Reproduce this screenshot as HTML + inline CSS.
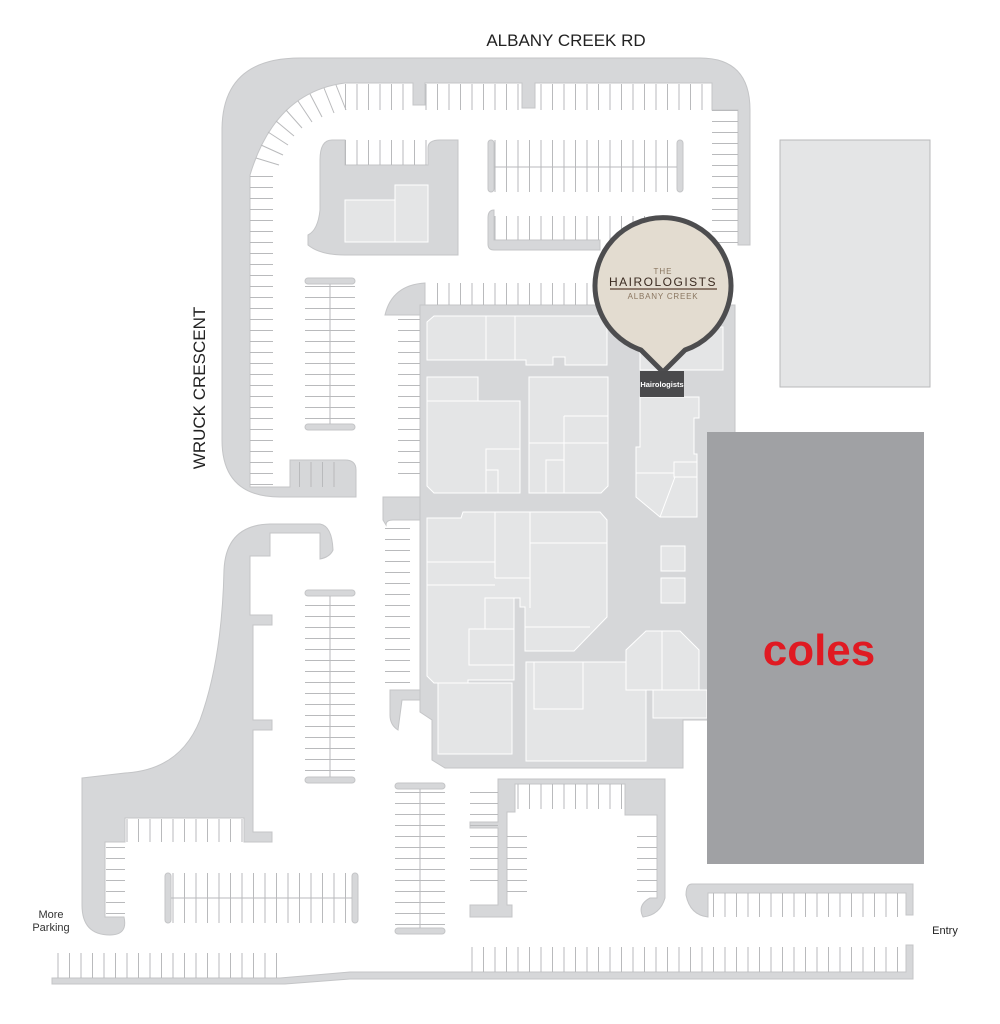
<!DOCTYPE html>
<html><head><meta charset="utf-8"><style>
html,body{margin:0;padding:0;background:#fff;}
svg{display:block;}
text{font-family:"Liberation Sans",sans-serif;}
</style></head><body>
<svg width="1000" height="1024" viewBox="0 0 1000 1024" xmlns="http://www.w3.org/2000/svg">
<defs>
<pattern id="v" width="11.5" height="10" patternUnits="userSpaceOnUse"><line x1="0.5" y1="0" x2="0.5" y2="10" stroke="#b9babc" stroke-width="1"/></pattern>
<pattern id="h" width="10" height="11" patternUnits="userSpaceOnUse"><line x1="0" y1="0.5" x2="10" y2="0.5" stroke="#b9babc" stroke-width="1"/></pattern>
</defs>
<g fill="#d6d7d9" stroke="#c4c5c7" stroke-width="1">
<!-- outer ring road -->
<path d="M222,130 Q222,58 300,58 L700,58 Q750,58 750,110 L750,245 L738,245 L738,110 L712,110 L712,83 L535,83 L535,108 L522,108 L522,83 L425,83 L425,105 L413,105 L413,83 L345,83 Q275,92 250,175 L250,487 L290,487 L290,460 L345,460 Q356,460 356,470 L356,497 L280,497 Q222,497 222,440 Z"/>
<!-- top-left island -->
<path d="M332,140 L345,140 L345,165 L428,165 L428,148 Q428,140 440,140 L458,140 L458,255 L345,255 Q320,255 308,245 L308,235 Q318,230 320,210 L320,160 Q320,140 332,140 Z"/>
<!-- rows -->
<rect x="488" y="140" width="6" height="52" rx="3"/>
<rect x="677" y="140" width="6" height="52" rx="3"/>
<path d="M488,218 Q488,210 494,210 L494,240 L600,240 L600,250 L494,250 Q488,250 488,244 Z"/>
<rect x="305" y="278" width="50" height="6" rx="3"/>
<rect x="305" y="424" width="50" height="6" rx="3"/>
<!-- mall floor -->
<path d="M425,283 Q392,285 385,315 L420,315 L420,305 L425,305 Z"/>
<path d="M420,305 L735,305 L735,720 L683,720 L683,768 L445,768 L432,760 L432,720 L420,712 Z"/>
<path d="M383,497 L420,497 L420,520 L393,520 Q386,520 386,525 L383,520 Z"/>
<path d="M390,690 L420,690 L420,700 L402,700 L398,730 Q390,725 390,715 Z"/>
<!-- lower-left band -->
<path d="M82,778 L125,773 Q180,770 200,720 Q222,660 224,570 Q226,525 270,524 L320,524 Q332,526 333,550 Q330,557 320,559 L320,533 L270,533 L270,556 L250,556 L250,615 L272,615 L272,625 L253,625 L253,720 L272,720 L272,730 L253,730 L253,832 L272,832 L272,842 L244,842 L244,818 L125,818 L125,842 L105,842 L105,917 L124,917 Q128,935 110,935 Q82,935 82,905 Z"/>
<rect x="165" y="873" width="6" height="50" rx="3"/>
<rect x="352" y="873" width="6" height="50" rx="3"/>
<rect x="395" y="783" width="50" height="6" rx="3"/>
<rect x="395" y="928" width="50" height="6" rx="3"/>
<rect x="305" y="590" width="50" height="6" rx="3"/>
<rect x="305" y="777" width="50" height="6" rx="3"/>
<!-- U shape -->
<path d="M498,779 L665,779 L665,898 Q660,915 643,917 Q637,905 650,898 L657,898 L657,815 L625,815 L625,784 L515,784 L515,812 L507,812 L507,905 L512,905 L512,917 L470,917 L470,905 L498,905 L498,828 L470,828 L470,822 L498,822 Z"/>
<!-- bottom right strip -->
<path d="M692,884 L913,884 L913,915 L906,915 L906,893 L708,893 L708,917 Q690,915 686,895 Q686,884 692,884 Z"/>
<!-- bottom long strip -->
<path d="M52,978 L280,978 L350,972 L906,972 L906,945 L913,945 L913,979 L350,979 L285,984 L52,984 Z"/>
</g>
<!-- corner diagonal stalls -->
<g stroke="#b9babc" stroke-width="1">
<line x1="336" y1="85" x2="346" y2="110"/>
<line x1="324" y1="88" x2="334" y2="113"/>
<line x1="310" y1="94" x2="322" y2="117"/>
<line x1="298" y1="101" x2="312" y2="122"/>
<line x1="286" y1="110" x2="302" y2="128"/>
<line x1="276" y1="121" x2="294" y2="136"/>
<line x1="268" y1="132" x2="288" y2="145"/>
<line x1="261" y1="145" x2="283" y2="155"/>
<line x1="256" y1="158" x2="279" y2="165"/>
</g>
<!-- parking stalls -->
<g>
<rect x="345" y="84" width="68" height="26" fill="url(#v)"/>
<rect x="425" y="84" width="97" height="26" fill="url(#v)"/>
<rect x="535" y="84" width="177" height="26" fill="url(#v)"/>
<rect x="712" y="110" width="26" height="135" fill="url(#h)"/>
<rect x="250" y="175" width="23" height="310" fill="url(#h)"/>
<rect x="345" y="140" width="83" height="25" fill="url(#v)"/>
<rect x="494" y="140" width="183" height="52" fill="url(#v)"/>
<line x1="494" y1="167" x2="677" y2="167" stroke="#b9babc"/>
<rect x="494" y="216" width="183" height="24" fill="url(#v)"/>
<rect x="428" y="283" width="160" height="22" fill="url(#v)"/>
<rect x="305" y="286" width="50" height="136" fill="url(#h)"/>
<line x1="330" y1="284" x2="330" y2="424" stroke="#b9babc"/>
<rect x="290" y="462" width="55" height="25" fill="url(#v)"/>
<rect x="398" y="318" width="22" height="160" fill="url(#h)"/>
<rect x="385" y="525" width="25" height="160" fill="url(#h)"/>
<rect x="305" y="598" width="50" height="178" fill="url(#h)"/>
<line x1="330" y1="596" x2="330" y2="777" stroke="#b9babc"/>
<rect x="125" y="819" width="118" height="23" fill="url(#v)"/>
<rect x="106" y="845" width="19" height="70" fill="url(#h)"/>
<rect x="171" y="873" width="181" height="50" fill="url(#v)"/>
<line x1="171" y1="898" x2="352" y2="898" stroke="#b9babc"/>
<rect x="395" y="791" width="50" height="136" fill="url(#h)"/>
<line x1="420" y1="789" x2="420" y2="928" stroke="#b9babc"/>
<rect x="470" y="783" width="28" height="100" fill="url(#h)"/>
<rect x="515" y="784" width="110" height="25" fill="url(#v)"/>
<rect x="507" y="826" width="20" height="75" fill="url(#h)"/>
<rect x="637" y="826" width="20" height="70" fill="url(#h)"/>
<rect x="708" y="893" width="198" height="24" fill="url(#v)"/>
<rect x="56" y="953" width="224" height="25" fill="url(#v)"/>
<rect x="466" y="947" width="440" height="25" fill="url(#v)"/>
</g>
<!-- buildings -->
<g fill="#e4e5e6" stroke="#fff" stroke-width="1">
<rect x="345" y="200" width="50" height="42"/>
<rect x="395" y="185" width="33" height="57"/>
<path d="M434,316 L607,316 L607,365 L565,365 L565,357 L553,357 L553,365 L526,365 L526,360 L427,360 L427,322 Z"/>
<line x1="486" y1="316" x2="486" y2="360"/><line x1="515" y1="316" x2="515" y2="360"/>
<path d="M427,377 L478,377 L478,401 L520,401 L520,493 L434,493 L427,486 Z"/>
<line x1="427" y1="401" x2="478" y2="401"/>
<rect x="486" y="449" width="34" height="44"/><rect x="486" y="470" width="12" height="23"/>
<path d="M529,377 L608,377 L608,486 L601,493 L529,493 Z"/>
<line x1="529" y1="443" x2="608" y2="443"/><line x1="564" y1="416" x2="608" y2="416"/><line x1="564" y1="416" x2="564" y2="493"/>
<rect x="546" y="460" width="18" height="33"/>
<rect x="640" y="327" width="83" height="43"/>
<path d="M640,397 L699,397 L699,418 L694,418 L694,454 L697,454 L697,517 L660,517 L636,497 L636,447 L640,447 Z"/>
<line x1="636" y1="473" x2="674" y2="473"/><path d="M674,462 L697,462 L697,477 L674,477 Z"/><line x1="675" y1="477" x2="660" y2="517"/>
<path d="M427,518 L461,518 L463,512 L600,512 L607,520 L607,617 L574,651 L525,651 L525,607 L520,607 L520,598 L514,598 L514,680 L468,680 L468,683 L434,683 L427,676 Z"/>
<line x1="495" y1="512" x2="495" y2="578"/><line x1="530" y1="512" x2="530" y2="608"/><line x1="530" y1="543" x2="607" y2="543"/>
<line x1="427" y1="562" x2="495" y2="562"/><line x1="427" y1="585" x2="495" y2="585"/><line x1="495" y1="578" x2="530" y2="578"/>
<rect x="485" y="598" width="29" height="40"/><rect x="469" y="629" width="45" height="36"/>
<line x1="525" y1="627" x2="590" y2="627"/>
<rect x="438" y="683" width="74" height="71"/>
<rect x="526" y="662" width="120" height="99"/><rect x="534" y="662" width="49" height="47"/>
<path d="M646,631 L680,631 L699,650 L699,690 L626,690 L626,650 Z"/><line x1="662" y1="631" x2="662" y2="690"/>
<rect x="653" y="690" width="54" height="28"/>
<rect x="661" y="546" width="24" height="25"/><rect x="661" y="578" width="24" height="25"/>
</g>
<rect x="780" y="140" width="150" height="247" fill="#e4e5e6" stroke="#b8b9bb"/>
<!-- Coles -->
<rect x="707" y="432" width="217" height="432" fill="#a0a1a4"/>
<text x="819" y="665" font-size="44" font-weight="bold" fill="#e01a22" text-anchor="middle" letter-spacing="0">coles</text>
<!-- Hairologists pin -->
<path d="M641,350 A68,68 0 1,1 685,350 L663,372 Z" fill="#e3dcd0" stroke="#4d4d4f" stroke-width="5" stroke-linejoin="round"/>
<text x="663" y="274" font-size="8" fill="#8a7660" text-anchor="middle" letter-spacing="1">THE</text>
<text x="663" y="286" font-size="12" fill="#3a2a20" text-anchor="middle" letter-spacing="1.5">HAIROLOGISTS</text>
<line x1="610" y1="289" x2="717" y2="289" stroke="#5a4030" stroke-width="1.2"/>
<text x="663" y="299" font-size="8" fill="#8a7660" text-anchor="middle" letter-spacing="0.8">ALBANY CREEK</text>
<rect x="640" y="371" width="44" height="26" fill="#4a4a4c"/>
<text x="662" y="387" font-size="7.5" font-weight="bold" fill="#fff" text-anchor="middle">Hairologists</text>
<!-- labels -->
<text x="566" y="46" font-size="17" fill="#222" text-anchor="middle">ALBANY CREEK RD</text>
<text transform="translate(205,388) rotate(-90)" font-size="17" fill="#222" text-anchor="middle">WRUCK CRESCENT</text>
<text x="51" y="918" font-size="11" fill="#333" text-anchor="middle">More</text>
<text x="51" y="931" font-size="11" fill="#333" text-anchor="middle">Parking</text>
<text x="945" y="934" font-size="11" fill="#222" text-anchor="middle">Entry</text>
</svg>
</body></html>
